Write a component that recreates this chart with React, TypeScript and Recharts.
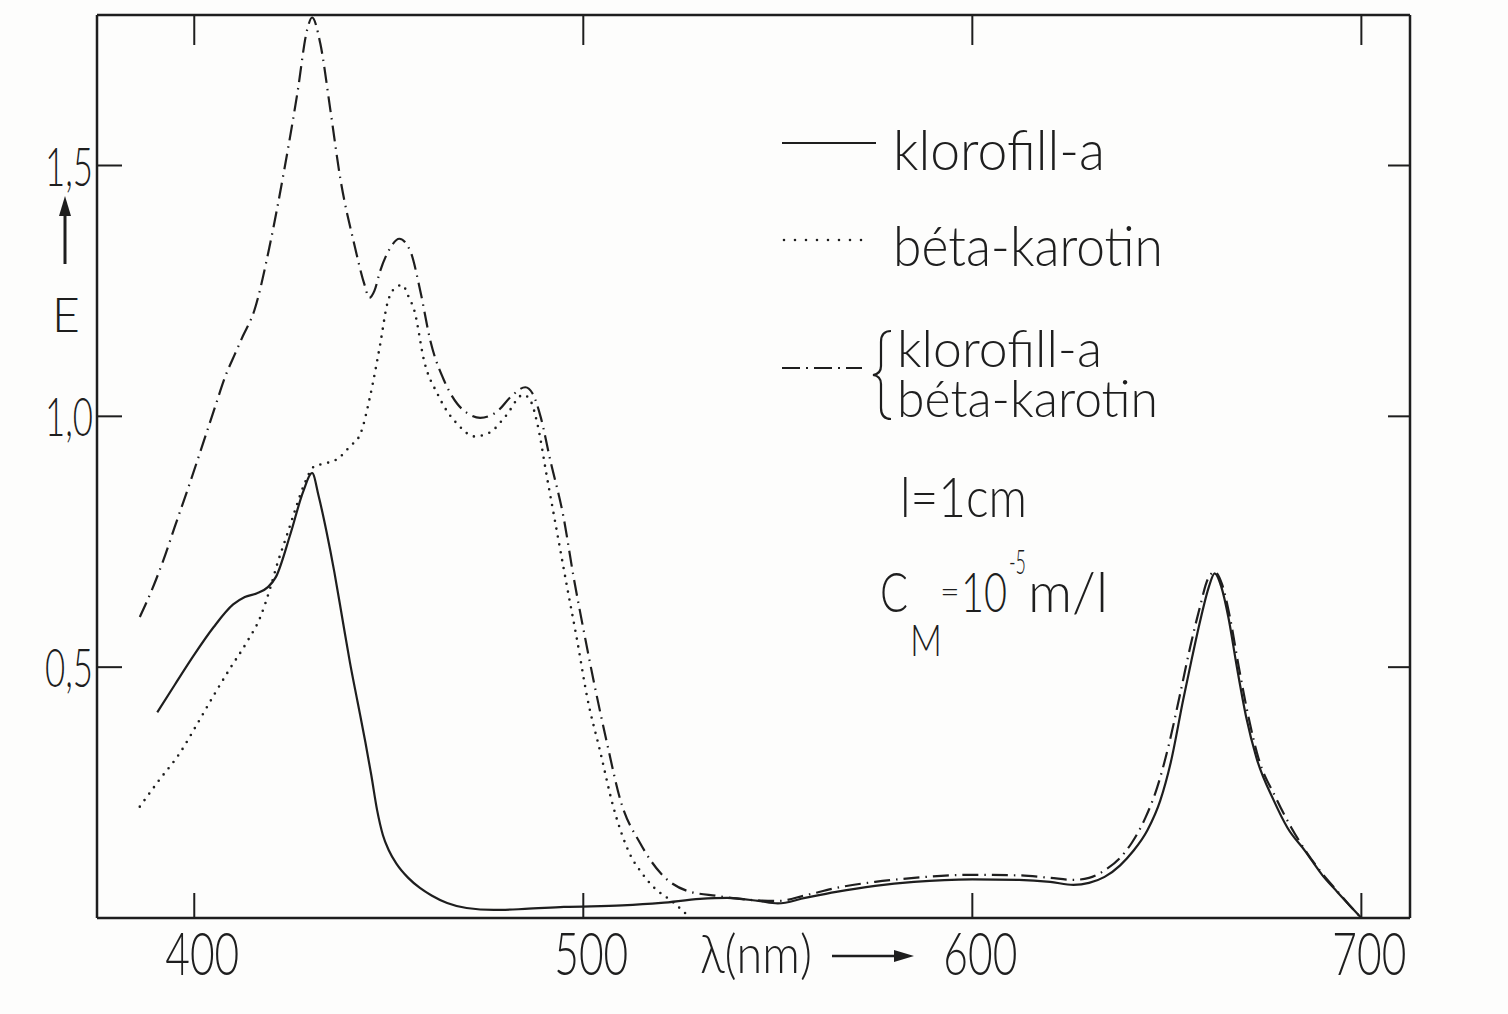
import { LineChart, Line, XAxis, YAxis } from "recharts";

// klorofill-a
const chlWl = [
  390.5, 395, 400, 405, 410, 413, 416, 419, 421, 424.7, 428, 430.3, 432, 434, 436, 438, 440, 442, 444, 445.5,
  447, 448.5, 450, 452, 455, 458, 461, 465, 470, 477, 485, 495, 510, 520, 530, 537, 545, 550, 557, 565, 575,
  585, 600, 612, 620, 626, 630, 634, 638, 641.3, 645, 648.3, 651, 654.2, 656.5, 658.8, 660.8, 662.3, 664,
  665.8, 668, 670.4, 673, 677.5, 681, 685.6, 690, 693.8, 697, 700,
];
const chlE = [
  0.41, 0.465, 0.525, 0.58, 0.625, 0.64, 0.647, 0.66, 0.68, 0.765, 0.85, 0.887, 0.84, 0.77, 0.69, 0.6, 0.51,
  0.43, 0.35, 0.285, 0.215, 0.165, 0.135, 0.108, 0.08, 0.06, 0.045, 0.03, 0.02, 0.016, 0.018, 0.022, 0.025,
  0.03, 0.038, 0.04, 0.034, 0.029, 0.04, 0.052, 0.064, 0.072, 0.077, 0.076, 0.072, 0.066, 0.07, 0.082, 0.105,
  0.133, 0.175, 0.234, 0.31, 0.435, 0.52, 0.6, 0.66, 0.687, 0.66, 0.6, 0.5, 0.4, 0.32, 0.234, 0.18, 0.133,
  0.085, 0.052, 0.025, 0,
];

// béta-karotin
const betaWl = [
  386, 391, 396.4, 401, 405.1, 409, 413.6, 417, 419.5, 421.5, 423.9, 426, 428.3, 430.8, 433, 436.8, 440,
  442.7, 445.2, 447.8, 449.6, 451.5, 453.5, 455, 456.6, 459.1, 462.5, 465, 467.6, 472, 476, 480, 484.6,
  486.5, 488.2, 490.7, 493.3, 495.9, 498.5, 501, 504.4, 507.7, 510, 512, 515, 518, 523, 527.5,
];
const betaE = [
  0.222, 0.275, 0.33, 0.39, 0.445, 0.495, 0.551, 0.6, 0.657, 0.71, 0.765, 0.815, 0.865, 0.9, 0.905, 0.915,
  0.94, 0.965, 1.04, 1.144, 1.224, 1.255, 1.262, 1.24, 1.21, 1.11, 1.045, 1.01, 0.985, 0.96, 0.968, 1.0,
  1.043, 1.03, 0.985, 0.877, 0.767, 0.657, 0.55, 0.44, 0.33, 0.222, 0.165, 0.127, 0.09, 0.062, 0.032, 0,
];

// klorofill-a + béta-karotin
const mixWl = [
  386, 389, 392, 395, 399, 402, 405.4, 408, 410.5, 412.5, 415.4, 419.5, 423.1, 426.5, 429, 430.3, 432.4,
  435, 437.5, 441.1, 443.7, 445, 446.3, 447.8, 450.4, 452.7, 455.5, 458.1, 460.7, 464.3, 467.6, 470.5, 473.5,
  477.9, 481.5, 485.1, 487, 489, 491.5, 494.9, 497.5, 500, 502.6, 506.2, 509.5, 514.7, 519.8, 526.7, 534.4,
  543, 550, 557, 565, 575, 585, 600, 612, 620, 626, 630, 634, 638, 641, 644.5, 647.5, 650.5, 653.5, 656,
  658.5, 660.5, 662.3, 664.2, 666.2, 668.5, 671, 673.5, 678, 682, 686, 690, 694, 697, 700,
];
const mixE = [
  0.6, 0.652, 0.712, 0.78, 0.87, 0.94, 1.02, 1.08, 1.125, 1.16, 1.21, 1.344, 1.49, 1.644, 1.77, 1.795, 1.743,
  1.61, 1.476, 1.344, 1.264, 1.236, 1.25, 1.29, 1.336, 1.354, 1.33, 1.25, 1.15, 1.07, 1.025, 1.005, 0.997,
  1.01, 1.04, 1.058, 1.045, 1.0, 0.913, 0.8, 0.68, 0.577, 0.475, 0.345, 0.236, 0.148, 0.09, 0.054, 0.044,
  0.036, 0.034, 0.045, 0.06, 0.072, 0.08, 0.086, 0.085, 0.08, 0.076, 0.08, 0.095, 0.12, 0.15, 0.2, 0.26,
  0.345, 0.45, 0.54, 0.62, 0.675, 0.69, 0.665, 0.6, 0.5, 0.4, 0.32, 0.24, 0.18, 0.13, 0.088, 0.052, 0.025, 0,
];

const xTicks = [400, 500, 600, 700];
const yTicks = [0.5, 1.0, 1.5];
const yTickLabels = ["0,5", "1,0", "1,5"];

const INK = "#1e1e1e";
const FONT = "Lato, 'Open Sans', sans-serif";

const toPoints = (wl: number[], e: number[]) => wl.map((x, i) => ({ x, e: e[i] }));

const BottomTick = ({ x, y, payload }: any) => (
  <g>
    <line x1={x} x2={x} y1={y} y2={y - 25} stroke={INK} strokeWidth={2} />
    <text x={x + 8} y={y + 57} textAnchor="middle" fontFamily={FONT} fontSize={60} fontWeight={300}
      fill={INK} textLength={74} lengthAdjust="spacingAndGlyphs">
      {payload.value}
    </text>
  </g>
);

const TopTick = ({ x, y }: any) => <line x1={x} x2={x} y1={y} y2={y + 30} stroke={INK} strokeWidth={2} />;

const LeftTick = ({ x, y, payload }: any) => {
  const label = yTickLabels[yTicks.indexOf(payload.value)];
  return (
    <g>
      <line x1={x} x2={x + 25} y1={y} y2={y} stroke={INK} strokeWidth={2} />
      <text x={x - 4} y={y + 20} textAnchor="end" fontFamily={FONT} fontSize={54} fontWeight={300}
        fill={INK} textLength={48} lengthAdjust="spacingAndGlyphs">
        {label}
      </text>
    </g>
  );
};

const RightTick = ({ x, y }: any) => <line x1={x} x2={x - 22} y1={y} y2={y} stroke={INK} strokeWidth={2} />;

function Notes() {
  const txt = { fontFamily: FONT, fontWeight: 300, fill: INK, lengthAdjust: "spacingAndGlyphs" as const };
  return (
    <svg width={1508} height={1014} style={{ position: "absolute", left: 0, top: 0, pointerEvents: "none" }}>
      {/* legend */}
      <line x1={782} x2={876} y1={143} y2={143} stroke={INK} strokeWidth={2} />
      <text x={893} y={170} fontSize={56} textLength={212} {...txt}>klorofill-a</text>

      <line x1={784} x2={868} y1={240} y2={240} stroke={INK} strokeWidth={2.6} strokeDasharray="0 11"
        strokeLinecap="round" />
      <text x={893} y={266} fontSize={56} textLength={270} {...txt}>béta-karotin</text>

      <line x1={782} x2={862} y1={368} y2={368} stroke={INK} strokeWidth={2} strokeDasharray="18 6 2 6" />
      <path d="M891,331 Q881,331 881,342 L881,366 Q881,374 873,375 Q881,376 881,384 L881,408 Q881,419 891,419"
        fill="none" stroke={INK} strokeWidth={2.2} />
      <text fontSize={52} {...txt}>
        <tspan x={897} y={367} textLength={205} lengthAdjust="spacingAndGlyphs">klorofill-a</tspan>
        <tspan x={897} y={417} textLength={261} lengthAdjust="spacingAndGlyphs">béta-karotin</tspan>
      </text>

      <text x={900} y={517} fontSize={56} textLength={127} {...txt}>l=1cm</text>

      <text x={880} y={612} fontSize={56} textLength={28} {...txt}>C</text>
      <text x={910} y={656} fontSize={44} textLength={32} {...txt}>M</text>
      <text x={940} y={603} fontSize={34} fontFamily={FONT} fontWeight={300} fill={INK}>=</text>
      <text x={961} y={612} fontSize={56} textLength={46} {...txt}>10</text>
      <text x={1009} y={574} fontSize={34} textLength={17} {...txt}>-5</text>
      <text x={1028} y={612} fontSize={56} textLength={80} {...txt}>m/l</text>

      {/* y axis label */}
      <line x1={65} x2={65} y1={264} y2={212} stroke={INK} strokeWidth={3} />
      <polygon points="59,216 71,216 65,196" fill={INK} />
      <text x={52} y={332} fontSize={48} {...txt}>E</text>

      {/* x axis label */}
      <text x={700} y={973} fontSize={54} textLength={112} {...txt}>λ(nm)</text>
      <line x1={832} x2={900} y1={956} y2={956} stroke={INK} strokeWidth={2.5} />
      <polygon points="894,950 894,962 914,956" fill={INK} />
    </svg>
  );
}

export default function App() {
  return (
    <div style={{ position: "absolute", left: 0, top: 0, width: 1508, height: 1014, background: "#fdfdfc" }}>
      <LineChart width={1508} height={1014} margin={{ top: 5, right: 88, bottom: 56, left: 47 }}>
        <XAxis type="number" dataKey="x" domain={[375, 712.5]} allowDataOverflow ticks={xTicks} interval={0}
          height={40} tickLine={false} tickSize={0} tickMargin={0}
          axisLine={{ stroke: INK, strokeWidth: 2.5 }} tick={(p: any) => <BottomTick {...p} />} />
        <XAxis xAxisId="top" orientation="top" type="number" dataKey="x" domain={[375, 712.5]} allowDataOverflow
          ticks={xTicks} interval={0} height={10} tickLine={false} tickSize={0} tickMargin={0}
          axisLine={{ stroke: INK, strokeWidth: 2.5 }} tick={(p: any) => <TopTick {...p} />} />
        <YAxis type="number" domain={[0, 1.8]} allowDataOverflow ticks={yTicks} interval={0} width={50}
          tickLine={false} tickSize={0} tickMargin={0}
          axisLine={{ stroke: INK, strokeWidth: 2.5 }} tick={(p: any) => <LeftTick {...p} />} />
        <YAxis yAxisId="right" orientation="right" type="number" domain={[0, 1.8]} allowDataOverflow ticks={yTicks}
          interval={0} width={10} tickLine={false} tickSize={0} tickMargin={0}
          axisLine={{ stroke: INK, strokeWidth: 2.5 }} tick={(p: any) => <RightTick {...p} />} />
        <Line data={toPoints(chlWl, chlE)} dataKey="e" type="monotone" stroke={INK} strokeWidth={2.2}
          dot={false} isAnimationActive={false} />
        <Line data={toPoints(betaWl, betaE)} dataKey="e" type="monotone" stroke={INK} strokeWidth={2.6}
          strokeDasharray="0 8" strokeLinecap="round" dot={false} isAnimationActive={false} />
        <Line data={toPoints(mixWl, mixE)} dataKey="e" type="monotone" stroke={INK} strokeWidth={2.2}
          strokeDasharray="16 6 1.5 6" dot={false} isAnimationActive={false} />
      </LineChart>
      <Notes />
    </div>
  );
}
